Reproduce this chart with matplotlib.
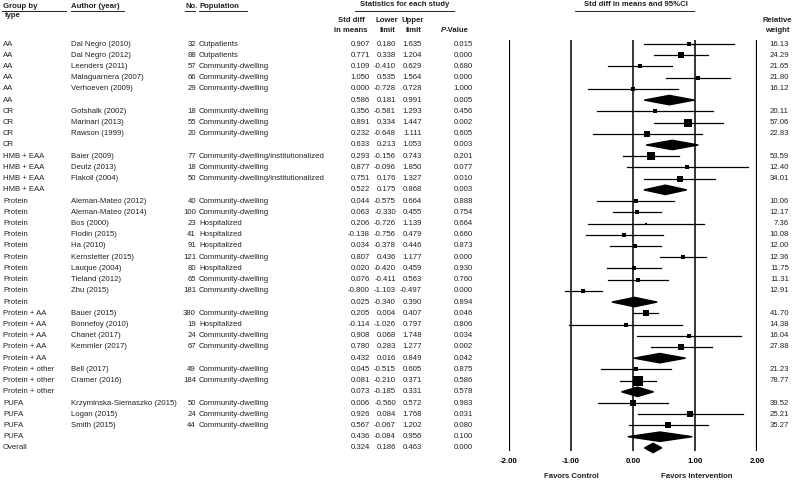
import matplotlib
matplotlib.use('Agg')
import matplotlib.pyplot as plt
import numpy as np
from matplotlib.lines import Line2D
from matplotlib.patches import Polygon
from matplotlib.transforms import blended_transform_factory

plt.rcParams['font.family'] = ['Liberation Sans', 'DejaVu Sans']

# data (summary rows have empty author)
groups = ['AA'] * 6 + ['CR'] * 4 + ['HMB + EAA'] * 4 + ['Protein'] * 10 + \
         ['Protein + AA'] * 5 + ['Protein + other'] * 3 + ['PUFA'] * 4 + ['Overall']
authors = ['Dal Negro (2010)', 'Dal Negro (2012)', 'Leenders (2011)', 'Malaguarnera (2007)', 'Verhoeven (2009)', '',
           'Gotshalk (2002)', 'Marinari (2013)', 'Rawson (1999)', '',
           'Baier (2009)', 'Deutz (2013)', 'Flakoll (2004)', '',
           'Aleman-Mateo (2012)', 'Aleman-Mateo (2014)', 'Bos (2000)', 'Flodin (2015)', 'Ha (2010)',
           'Kernstetter (2015)', 'Lauque (2004)', 'Tieland (2012)', 'Zhu (2015)', '',
           'Bauer (2015)', 'Bonnefoy (2010)', 'Chanet (2017)', 'Kemmler (2017)', '',
           'Bell (2017)', 'Cramer (2016)', '',
           'Krzyminska-Siemaszko (2015)', 'Logan (2015)', 'Smith (2015)', '',
           '']
n_subj = ['32', '88', '57', '66', '29', '',
          '18', '55', '20', '',
          '77', '18', '50', '',
          '40', '100', '23', '41', '91', '121', '80', '65', '181', '',
          '380', '19', '24', '67', '',
          '49', '184', '',
          '50', '24', '44', '',
          '']
CD = 'Community-dwelling'
CDI = 'Community-dwelling/institutionalized'
HO = 'Hospitalized'
population = ['Outpatients', 'Outpatients', CD, CD, CD, '',
              CD, CD, CD, '',
              CDI, CD, CDI, '',
              CD, CD, HO, HO, HO, CD, HO, CD, CD, '',
              CD, HO, CD, CD, '',
              CD, CD, '',
              CD, CD, CD, '',
              '']
smd = [0.907, 0.771, 0.109, 1.050, 0.000, 0.586,
       0.356, 0.891, 0.232, 0.633,
       0.293, 0.877, 0.751, 0.522,
       0.044, 0.063, 0.206, -0.138, 0.034, 0.807, 0.020, 0.076, -0.800, 0.025,
       0.205, -0.114, 0.908, 0.780, 0.432,
       0.045, 0.081, 0.073,
       0.006, 0.926, 0.567, 0.436,
       0.324]
lower = [0.180, 0.338, -0.410, 0.535, -0.728, 0.181,
         -0.581, 0.334, -0.648, 0.213,
         -0.156, -0.096, 0.176, 0.175,
         -0.575, -0.330, -0.726, -0.756, -0.378, 0.436, -0.420, -0.411, -1.103, -0.340,
         0.004, -1.026, 0.068, 0.283, 0.016,
         -0.515, -0.210, -0.185,
         -0.560, 0.084, -0.067, -0.084,
         0.186]
upper = [1.635, 1.204, 0.629, 1.564, 0.728, 0.991,
         1.293, 1.447, 1.111, 1.053,
         0.743, 1.850, 1.327, 0.868,
         0.664, 0.455, 1.139, 0.479, 0.446, 1.177, 0.459, 0.563, -0.497, 0.390,
         0.407, 0.797, 1.748, 1.277, 0.849,
         0.605, 0.371, 0.331,
         0.572, 1.768, 1.202, 0.956,
         0.463]
pvalue = [0.015, 0.000, 0.680, 0.000, 1.000, 0.005,
          0.456, 0.002, 0.605, 0.003,
          0.201, 0.077, 0.010, 0.003,
          0.888, 0.754, 0.664, 0.660, 0.873, 0.000, 0.930, 0.760, 0.000, 0.894,
          0.046, 0.806, 0.034, 0.002, 0.042,
          0.875, 0.586, 0.578,
          0.983, 0.031, 0.080, 0.100,
          0.000]
weight = [16.13, 24.29, 21.65, 21.80, 16.12, None,
          20.11, 57.06, 22.83, None,
          53.59, 12.40, 34.01, None,
          10.06, 12.17, 7.36, 10.08, 12.00, 12.36, 11.75, 11.31, 12.91, None,
          41.70, 14.38, 16.04, 27.88, None,
          21.23, 78.77, None,
          39.52, 25.21, 35.27, None,
          None]
xticks = [-2, -1, 0, 1, 2]

W, H = 800, 482
fig = plt.figure(figsize=(W / 100, H / 100), dpi=100)
fig.patch.set_facecolor('white')

def fx(x):
    return x / W

def fy(y):
    return 1 - y / H

# forest plot axes
row0, step = 44, 11.22
top, bot = 40, 451
ax = fig.add_axes([fx(509), fy(bot), fx(757) - fx(509), (bot - top) / H])
ax.set_xlim(-2, 2)
ax.set_ylim((bot - row0) / step, (top - row0) / step)
for s in ax.spines.values():
    s.set_visible(False)
ax.set_yticks([])
ax.set_xticks(xticks)
ax.set_xticklabels(['%.2f' % t for t in xticks], fontsize=5.7, fontweight='bold')
ax.tick_params(axis='x', length=0, pad=5)
for t in xticks:
    ax.axvline(t, color='black', lw=1.6 if abs(t) == 2 else 1.1, zorder=1)

fs = 5.6
col = '#222222'
tr = blended_transform_factory(fig.transFigure, ax.transData)
nrows = len(groups)
for i in range(nrows):
    ax.text(fx(3), i, groups[i], transform=tr, fontsize=fs, va='center', ha='left', color=col)
    ax.text(fx(71), i, authors[i], transform=tr, fontsize=fs, va='center', ha='left', color=col)
    ax.text(fx(196), i, n_subj[i], transform=tr, fontsize=fs, va='center', ha='right', color=col)
    ax.text(fx(199), i, population[i], transform=tr, fontsize=fs, va='center', ha='left', color=col)
    for xr, v in zip([370, 396, 422, 473], [smd[i], lower[i], upper[i], pvalue[i]]):
        ax.text(fx(xr), i, '%.3f' % v, transform=tr, fontsize=fs, va='center', ha='right', color=col)
    if weight[i] is not None:
        ax.text(fx(789), i, '%.2f' % weight[i], transform=tr, fontsize=fs, va='center', ha='right', color=col)
        ax.plot([lower[i], upper[i]], [i, i], color='black', lw=0.9, zorder=2, clip_on=False)
        ax.scatter([smd[i]], [i], marker='s', s=0.57 * weight[i], color='black', zorder=3,
                   linewidths=0, clip_on=False)
    else:
        h = 0.42
        poly = Polygon([[lower[i], i], [smd[i], i - h], [upper[i], i], [smd[i], i + h]],
                       closed=True, color='black', zorder=3, clip_on=False)
        ax.add_patch(poly)

# headers
hk = dict(fontsize=fs, fontweight='bold', color=col, va='center')
fig.text(fx(3), fy(6), 'Group by', ha='left', **hk)
fig.text(fx(5), fy(15.5), 'type', ha='left', **hk)
fig.text(fx(71), fy(6), 'Author (year)', ha='left', **hk)
fig.text(fx(185), fy(6), 'No.', ha='left', **hk)
fig.text(fx(199), fy(6), 'Population', ha='left', **hk)
fig.text(fx(405), fy(5), 'Statistics for each study', ha='center', **hk)
fig.text(fx(351), fy(20), 'Std diff', ha='center', **hk)
fig.text(fx(351), fy(30), 'in means', ha='center', **hk)
fig.text(fx(387), fy(20), 'Lower', ha='center', **hk)
fig.text(fx(387), fy(30), 'limit', ha='center', **hk)
fig.text(fx(413), fy(20), 'Upper', ha='center', **hk)
fig.text(fx(413), fy(30), 'limit', ha='center', **hk)
fig.text(fx(446), fy(30), 'P', ha='right', style='italic', **hk)
fig.text(fx(446), fy(30), '-Value', ha='left', **hk)
fig.text(fx(636), fy(5), 'Std diff in means and 95%CI', ha='center', **hk)
fig.text(fx(777), fy(20), 'Relative', ha='center', **hk)
fig.text(fx(777), fy(30), 'weight', ha='center', **hk)
fig.text(fx(571), fy(477), 'Favors Control', ha='center', **hk)
fig.text(fx(697), fy(477), 'Favors Intervention', ha='center', **hk)

# header underlines
for x0, x1, y in [(2, 66, 10.5), (71, 124, 10.5), (185, 195, 10.5), (199, 247, 10.5),
                  (355, 454, 10.5), (575, 694, 10.5)]:
    fig.add_artist(Line2D([fx(x0), fx(x1)], [fy(y), fy(y)], color=col, lw=0.7))

fig.savefig('out.png', dpi=100, facecolor='white')
